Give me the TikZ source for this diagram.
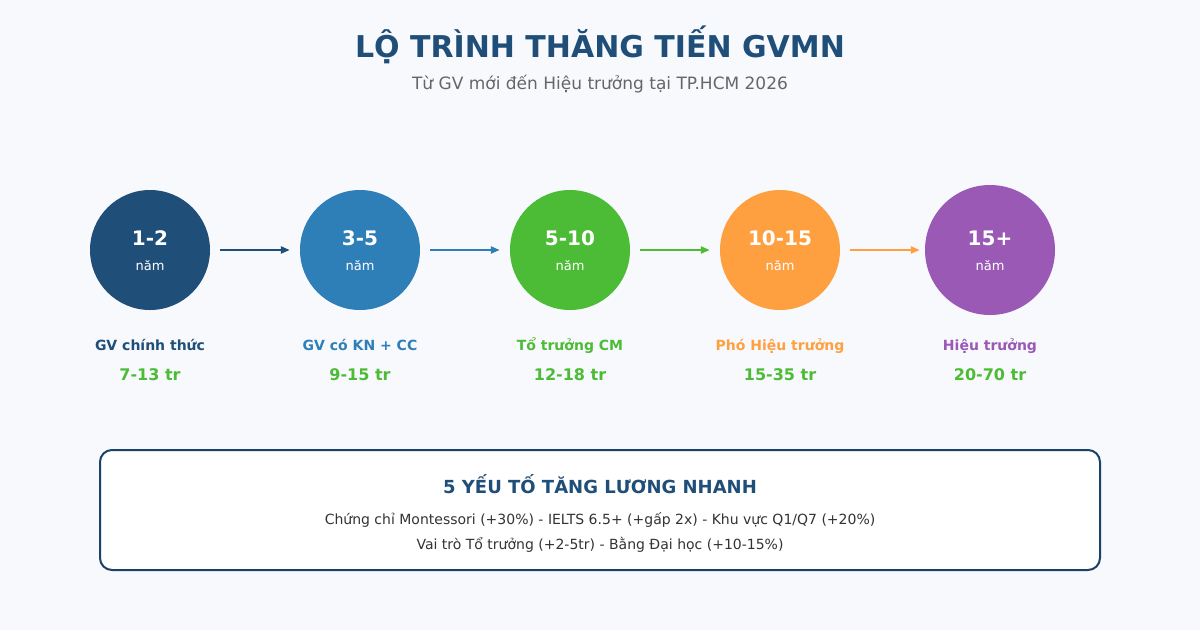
\documentclass[tikz,border=0pt]{standalone}
\usepackage{fontspec}
\setmainfont{DejaVu Sans}
\usepackage{xcolor}
\usetikzlibrary{arrows.meta,positioning}
\definecolor{navy}{HTML}{1F4E79}
\definecolor{sky}{HTML}{2E7EB8}
\definecolor{leaf}{HTML}{4CBB35}
\definecolor{amber}{HTML}{FFA040}
\definecolor{plum}{HTML}{9B59B6}
\definecolor{paper}{HTML}{F7F9FC}
\definecolor{ink}{HTML}{333333}
\definecolor{greytext}{HTML}{666666}
\tikzset{
  stage/.style={circle, minimum size=120pt, inner sep=0pt},
  stepline/.style={-{Triangle[length=9pt,width=7pt]}, line width=2.5pt},
  role/.style={anchor=base, font=\fontsize{14}{16}\selectfont\bfseries},
  pay/.style={font=\fontsize{16}{18}\selectfont\bfseries, text=leaf}
}

\begin{document}
\begin{tikzpicture}[x=1pt,y=-1pt]
                \fill[paper] (0,0) rectangle (1200,630);
                \useasboundingbox (0,0) rectangle (1200,630);
                \node[text=navy, font=\fontsize{30}{34}\selectfont\bfseries] (title) at (600,45) {LỘ TRÌNH THĂNG TIẾN GVMN};
                \node[text=greytext, font=\fontsize{17}{20}\selectfont] (subtitle) at (600,84) {Từ GV mới đến Hiệu trưởng tại TP.HCM 2026};
                \node[stage, fill=navy] (s1) at (150,250) {};
                \node[stage, fill=sky] (s2) at (360,250) {};
                \node[stage, fill=leaf] (s3) at (570,250) {};
                \node[stage, fill=amber] (s4) at (780,250) {};
                \node[stage, fill=plum, minimum size=130pt] (s5) at (990,250) {};
                \node[text=white, font=\fontsize{20}{22}\selectfont\bfseries] at (150,238) {1-2};
                \node[text=white, font=\fontsize{20}{22}\selectfont\bfseries] at (360,238) {3-5};
                \node[text=white, font=\fontsize{20}{22}\selectfont\bfseries] at (570,238) {5-10};
                \node[text=white, font=\fontsize{20}{22}\selectfont\bfseries] at (780,238) {10-15};
                \node[text=white, font=\fontsize{20}{22}\selectfont\bfseries] at (990,238) {15+};
                \node[text=white, font=\fontsize{13}{15}\selectfont] at (150,266) {năm};
                \node[text=white, font=\fontsize{13}{15}\selectfont] at (360,266) {năm};
                \node[text=white, font=\fontsize{13}{15}\selectfont] at (570,266) {năm};
                \node[text=white, font=\fontsize{13}{15}\selectfont] at (780,266) {năm};
                \node[text=white, font=\fontsize{13}{15}\selectfont] at (990,266) {năm};
                \draw[stepline, navy] ([xshift=10pt]s1.east) -- ([xshift=-10pt]s2.west);
                \draw[stepline, sky] ([xshift=10pt]s2.east) -- ([xshift=-10pt]s3.west);
                \draw[stepline, leaf] ([xshift=10pt]s3.east) -- ([xshift=-10pt]s4.west);
                \draw[stepline, amber] ([xshift=10pt]s4.east) -- ([xshift=-5pt]s5.west);
                \node[role, text=navy] (r1) at (150,350) {GV chính thức};
                \node[role, text=sky] (r2) at (360,350) {GV có KN + CC};
                \node[role, text=leaf] (r3) at (570,350) {Tổ trưởng CM};
                \node[role, text=amber] (r4) at (780,350) {Phó Hiệu trưởng};
                \node[role, text=plum] (r5) at (990,350) {Hiệu trưởng};
                \node[pay] (p1) at (150,375) {7-13 tr};
                \node[pay] (p2) at (360,375) {9-15 tr};
                \node[pay] (p3) at (570,375) {12-18 tr};
                \node[pay] (p4) at (780,375) {15-35 tr};
                \node[pay] (p5) at (990,375) {20-70 tr};
                \draw[navy!85!black, fill=white, line width=2pt, rounded corners=12pt] (100,450) rectangle (1100,570);
                \node[text=navy, font=\fontsize{18}{20}\selectfont\bfseries] (factors) at (600,484) {5 YẾU TỐ TĂNG LƯƠNG NHANH};
                \node[text=ink, font=\fontsize{14}{16}\selectfont] (line1) at (600,520) {Chứng chỉ Montessori (+30\%) - IELTS 6.5+ (+gấp 2x) - Khu vực Q1/Q7 (+20\%)};
                \node[text=ink, font=\fontsize{14}{16}\selectfont] (line2) at (600,545) {Vai trò Tổ trưởng (+2-5tr) - Bằng Đại học (+10-15\%)};
            \end{tikzpicture}
\end{document}
